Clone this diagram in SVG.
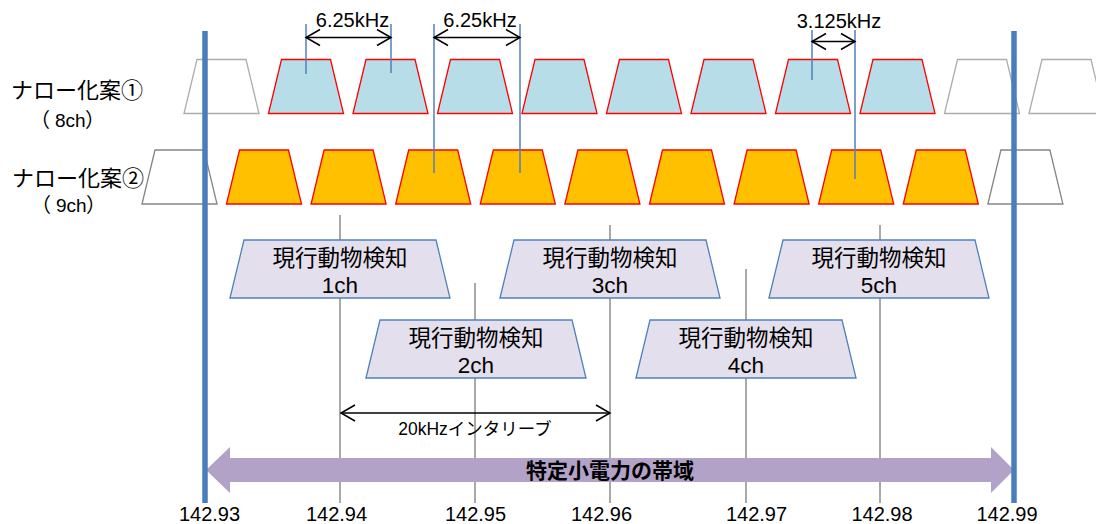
<svg xmlns="http://www.w3.org/2000/svg" xmlns:xlink="http://www.w3.org/1999/xlink" width="1096" height="524" viewBox="0 0 1096 524">
<style>
text{font-family:"Liberation Sans","Noto Sans CJK JP",sans-serif;fill:#000}
.blue{fill:#B7DDE8;stroke:#FF0000;stroke-width:1.3}
.orange{fill:#FFC000;stroke:#FF0000;stroke-width:1.3}
.ghost1{fill:#FFFFFF;stroke:#ADADAD;stroke-width:1.3}
.ghost2{fill:#FFFFFF;stroke:#858585;stroke-width:1.3}
.det{fill:#E4DFEC;stroke:#4F81BD;stroke-width:1.3}
.tick{stroke:#8C8C8C;stroke-width:1.5;fill:none}
.dim{stroke:#4F81BD;stroke-width:1.5;fill:none}
.arr{stroke:#000;stroke-width:1.5;fill:none;marker-start:url(#chev);marker-end:url(#chev)}
.band{stroke:#4A7EBB;stroke-width:5.5}
.lbl{font-size:22px}
.sub{font-size:19px}
.par{font-size:20px}
.dt{font-size:22.5px}
.ax{font-size:20px}
.dimt{font-size:20px}
</style>
<defs>
<marker id="chev" markerUnits="userSpaceOnUse" viewBox="-16 -10 18 20" markerWidth="18" markerHeight="20" refX="0" refY="0" orient="auto-start-reverse">
<path d="M-14,-8 L0,0 L-14,8" fill="none" stroke="#000" stroke-width="1.5"/>
</marker>
<path id="trap" d="M-37.5,54 L-24.5,0 L24.5,0 L37.5,54 Z"/>
<path id="dbox" d="M-110,58 L-96,0 L96,0 L110,58 Z"/>
</defs>

<!-- axis ticks -->
<g id="ticks">
<line class="tick" x1="340" y1="215" x2="340" y2="503"/>
<line class="tick" x1="475" y1="283" x2="475" y2="503"/>
<line class="tick" x1="610" y1="225" x2="610" y2="503"/>
<line class="tick" x1="746" y1="269" x2="746" y2="503"/>
<line class="tick" x1="880" y1="225" x2="880" y2="503"/>
</g>

<!-- row 1 -->
<g id="row1-label">
<text class="lbl" x="77" y="98" text-anchor="middle">ナロー化案①</text>
<text class="sub" y="127"><tspan class="par" x="30">（</tspan><tspan x="55">8ch</tspan><tspan class="par" x="85">）</tspan></text>
</g>
<g id="r1-g0"><use xlink:href="#trap" href="#trap" class="ghost1" x="221.5" y="59.5"/></g>
<g id="r1-ch1"><use xlink:href="#trap" href="#trap" class="blue" x="306" y="59.5"/></g>
<g id="r1-ch2"><use xlink:href="#trap" href="#trap" class="blue" x="390.5" y="59.5"/></g>
<g id="r1-ch3"><use xlink:href="#trap" href="#trap" class="blue" x="475" y="59.5"/></g>
<g id="r1-ch4"><use xlink:href="#trap" href="#trap" class="blue" x="559.5" y="59.5"/></g>
<g id="r1-ch5"><use xlink:href="#trap" href="#trap" class="blue" x="644" y="59.5"/></g>
<g id="r1-ch6"><use xlink:href="#trap" href="#trap" class="blue" x="728.5" y="59.5"/></g>
<g id="r1-ch7"><use xlink:href="#trap" href="#trap" class="blue" x="813" y="59.5"/></g>
<g id="r1-ch8"><use xlink:href="#trap" href="#trap" class="blue" x="897.5" y="59.5"/></g>
<g id="r1-g9"><use xlink:href="#trap" href="#trap" class="ghost1" x="982" y="59.5"/></g>
<g id="r1-g10"><use xlink:href="#trap" href="#trap" class="ghost1" x="1066.5" y="59.5"/></g>

<!-- row 2 -->
<g id="row2-label">
<text class="lbl" x="78" y="186" text-anchor="middle">ナロー化案②</text>
<text class="sub" y="212"><tspan class="par" x="31">（</tspan><tspan x="56">9ch</tspan><tspan class="par" x="86">）</tspan></text>
</g>
<g id="r2-g0"><use xlink:href="#trap" href="#trap" class="ghost2" x="179.5" y="150"/></g>
<g id="r2-ch1"><use xlink:href="#trap" href="#trap" class="orange" x="264" y="150"/></g>
<g id="r2-ch2"><use xlink:href="#trap" href="#trap" class="orange" x="348.6" y="150"/></g>
<g id="r2-ch3"><use xlink:href="#trap" href="#trap" class="orange" x="433.2" y="150"/></g>
<g id="r2-ch4"><use xlink:href="#trap" href="#trap" class="orange" x="517.8" y="150"/></g>
<g id="r2-ch5"><use xlink:href="#trap" href="#trap" class="orange" x="602.4" y="150"/></g>
<g id="r2-ch6"><use xlink:href="#trap" href="#trap" class="orange" x="687" y="150"/></g>
<g id="r2-ch7"><use xlink:href="#trap" href="#trap" class="orange" x="771.6" y="150"/></g>
<g id="r2-ch8"><use xlink:href="#trap" href="#trap" class="orange" x="856.2" y="150"/></g>
<g id="r2-ch9"><use xlink:href="#trap" href="#trap" class="orange" x="940.8" y="150"/></g>
<g id="r2-g10"><use xlink:href="#trap" href="#trap" class="ghost2" x="1025.4" y="150"/></g>

<!-- dimension annotations -->
<g id="dims">
<line class="dim" x1="306" y1="24" x2="306" y2="74"/>
<line class="dim" x1="391" y1="24" x2="391" y2="73"/>
<line class="dim" x1="434" y1="24" x2="434" y2="173"/>
<line class="dim" x1="520" y1="24" x2="520" y2="173"/>
<line class="dim" x1="812" y1="30" x2="812" y2="80"/>
<line class="dim" x1="855" y1="30" x2="855" y2="179"/>
<line class="arr" x1="306" y1="37.5" x2="391" y2="37.5"/>
<line class="arr" x1="434" y1="37.5" x2="520" y2="37.5"/>
<line class="arr" x1="812" y1="41.5" x2="855" y2="41.5"/>
<text class="dimt" x="352.5" y="27" text-anchor="middle">6.25kHz</text>
<text class="dimt" x="480" y="27" text-anchor="middle">6.25kHz</text>
<text class="dimt" x="839" y="28" text-anchor="middle">3.125kHz</text>
</g>

<!-- detection channels -->
<g id="det1"><use xlink:href="#dbox" href="#dbox" class="det" x="340" y="240"/>
<text class="dt" x="340" y="266" text-anchor="middle">現行動物検知</text><text class="dt" x="340" y="293" text-anchor="middle">1ch</text></g>
<g id="det2"><use xlink:href="#dbox" href="#dbox" class="det" x="476" y="320"/>
<text class="dt" x="476" y="346" text-anchor="middle">現行動物検知</text><text class="dt" x="476" y="373" text-anchor="middle">2ch</text></g>
<g id="det3"><use xlink:href="#dbox" href="#dbox" class="det" x="610" y="240"/>
<text class="dt" x="610" y="266" text-anchor="middle">現行動物検知</text><text class="dt" x="610" y="293" text-anchor="middle">3ch</text></g>
<g id="det4"><use xlink:href="#dbox" href="#dbox" class="det" x="746" y="320"/>
<text class="dt" x="746" y="346" text-anchor="middle">現行動物検知</text><text class="dt" x="746" y="373" text-anchor="middle">4ch</text></g>
<g id="det5"><use xlink:href="#dbox" href="#dbox" class="det" x="879" y="240"/>
<text class="dt" x="879" y="266" text-anchor="middle">現行動物検知</text><text class="dt" x="879" y="293" text-anchor="middle">5ch</text></g>

<!-- interleave -->
<g id="interleave">
<line class="arr" x1="341" y1="413" x2="610" y2="413"/>
<text x="475" y="435" text-anchor="middle" font-size="17.5">20kHzインタリーブ</text>
</g>

<!-- band arrow -->
<g id="band">
<polygon points="206,470 230,447 230,458 991,458 991,447 1014,470 991,493 991,482 230,482 230,493" fill="#B3A2C7"/>
<text x="610" y="478" text-anchor="middle" font-size="21" font-weight="bold">特定小電力の帯域</text>
</g>

<!-- band edges -->
<g id="edges">
<line class="band" x1="205" y1="31" x2="205" y2="503"/>
<line class="band" x1="1014" y1="31" x2="1014" y2="503"/>
</g>

<!-- axis labels -->
<g id="axis-labels">
<text class="ax" x="209.5" y="521" text-anchor="middle">142.93</text>
<text class="ax" x="336.5" y="521" text-anchor="middle">142.94</text>
<text class="ax" x="475.5" y="521" text-anchor="middle">142.95</text>
<text class="ax" x="601.5" y="521" text-anchor="middle">142.96</text>
<text class="ax" x="756.5" y="521" text-anchor="middle">142.97</text>
<text class="ax" x="882" y="521" text-anchor="middle">142.98</text>
<text class="ax" x="1007" y="521" text-anchor="middle">142.99</text>
</g>
</svg>
